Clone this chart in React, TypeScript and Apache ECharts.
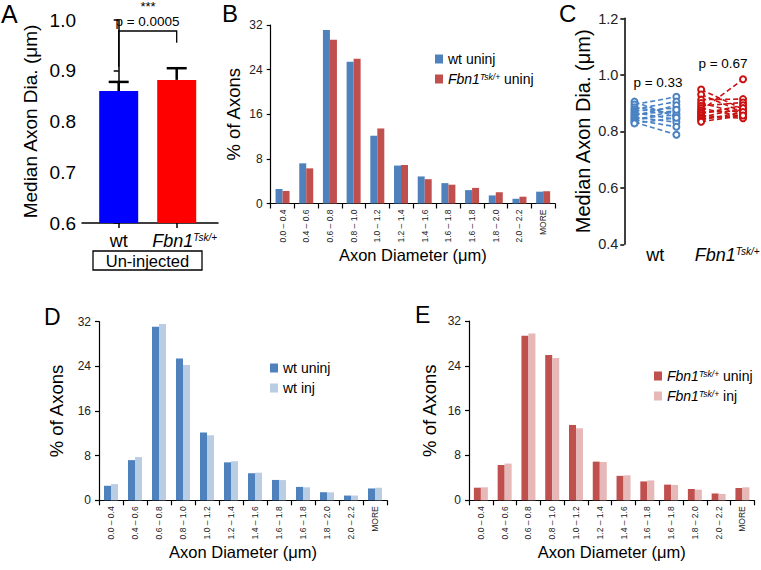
import React, { useEffect, useRef } from 'react';
import * as echarts from 'echarts';

const FONT = '"Liberation Sans", Arial, Helvetica, sans-serif';

// ---------- Panel A: median axon diameter (un-injected) ----------
const aGroups = ['wt', 'Fbn1Tsk/+'];
const aMeans = [0.86, 0.882];
const aSem = [0.018, 0.023];
const aColors = ['#0000FF', '#FF0000'];
const aYRange = [0.6, 1.0];
const aYStep = 0.1;
const aPText = 'p = 0.0005';
const aStars = '***';
const aBoxText = 'Un-injected';

// ---------- Histograms (panels B, D, E) ----------
const diameterBins = [
  '0.0 – 0.4', '0.4 – 0.6', '0.6 – 0.8', '0.8 – 1.0', '1.0 – 1.2', '1.2 – 1.4',
  '1.4 – 1.6', '1.6 – 1.8', '1.6 – 1.8', '1.8 – 2.0', '2.0 – 2.2', 'MORE',
];
const wtUninj = [2.6, 7.2, 31.1, 25.4, 12.15, 6.8, 4.85, 3.65, 2.4, 1.45, 0.85, 2.12];
const fbnUninj = [2.25, 6.3, 29.35, 25.95, 13.45, 6.9, 4.36, 3.37, 2.8, 2.02, 1.22, 2.2];
const wtInj = [2.9, 7.75, 31.6, 24.25, 11.65, 7.0, 4.95, 3.62, 2.33, 1.43, 0.85, 2.25];
const fbnInj = [2.32, 6.55, 29.75, 25.4, 12.85, 6.85, 4.46, 3.55, 2.74, 1.9, 1.12, 2.32];
const histYMax = 32;
const histYStep = 8;

// ---------- Panel C: paired medians ----------
const cGroups = ['wt', 'Fbn1Tsk/+'];
const cYTicks = [0.4, 0.6, 0.8, 1.0, 1.2];
const wtPairUninj = [0.905, 0.895, 0.885, 0.878, 0.872, 0.866, 0.86, 0.855, 0.85, 0.845, 0.84, 0.836, 0.832, 0.828];
const wtPairInj = [0.85, 0.922, 0.862, 0.905, 0.882, 0.842, 0.872, 0.892, 0.832, 0.858, 0.816, 0.876, 0.788, 0.848];
const fbnPairUninj = [0.948, 0.93, 0.912, 0.9, 0.89, 0.882, 0.874, 0.868, 0.862, 0.856, 0.85, 0.845, 0.84, 0.834];
const fbnPairInj = [0.878, 0.868, 0.914, 0.862, 0.902, 0.852, 0.984, 0.872, 0.892, 0.846, 0.882, 0.858, 0.868, 0.856];
const cPTexts = ['p = 0.33', 'p = 0.67'];

const SERIES = {
  wtU: 'wt uninj',
  fbU: 'Fbn1Tsk/+ uninj',
  wtI: 'wt inj',
  fbI: 'Fbn1Tsk/+ inj',
};

const COLORS = {
  wtU: '#4F81BD',
  fbU: '#C0504D',
  wtI: '#B9CDE5',
  fbI: '#E6B9B8',
  cWt: '#4A82C3',
  cFb: '#CC1010',
};

const rich = (fs: number, supFs: number) => ({
  i: { fontStyle: 'italic', fontSize: fs, fontFamily: FONT, color: '#000' },
  s: { fontStyle: 'italic', fontSize: supFs, fontFamily: FONT, color: '#000', verticalAlign: 'top' },
  n: { fontSize: fs, fontFamily: FONT, color: '#000' },
  pad: { width: 0 },
});
const richName = (s: string) => s.replace('Fbn1Tsk/+', '{i|Fbn1}{s|Tsk/+}');

function txt(x: number, y: number, text: string, fontSize: number, align = 'left', vAlign = 'top', extra: any = {}, z = 10) {
  return {
    type: 'text',
    x,
    y,
    z,
    silent: true,
    style: {
      text,
      fontSize,
      fontFamily: FONT,
      fill: '#000',
      align,
      verticalAlign: vAlign,
      textAlign: align,
      textVerticalAlign: vAlign,
      ...extra,
    },
  };
}

function histX(gridIndex: number) {
  return {
    type: 'category',
    gridIndex,
    data: diameterBins,
    axisLine: { show: true, lineStyle: { color: '#000', width: 1.2 } },
    axisTick: { show: true, length: 5, lineStyle: { color: '#000', width: 1.2 } },
    axisLabel: { rotate: 90, fontSize: 8.5, interval: 0, margin: 6, color: '#222', fontFamily: FONT },
    name: 'Axon Diameter (μm)',
    nameLocation: 'middle',
    nameGap: 43,
    nameTextStyle: { fontSize: 16.5, color: '#000', fontFamily: FONT },
  };
}

function histY(gridIndex: number, nameGap: number) {
  return {
    type: 'value',
    gridIndex,
    min: 0,
    max: histYMax,
    interval: histYStep,
    axisLine: { show: true, lineStyle: { color: '#000', width: 1.2 } },
    axisTick: { show: true, length: 4, lineStyle: { color: '#000', width: 1.2 } },
    axisLabel: { fontSize: 12, color: '#222', margin: 8, fontFamily: FONT, showMaxLabel: true, showMinLabel: true },
    splitLine: { show: false },
    name: '% of Axons',
    nameLocation: 'middle',
    nameGap,
    nameTextStyle: { fontSize: 18.5, color: '#000', fontFamily: FONT },
  };
}

function histBar(name: string, data: number[], color: string, axisIndex: [number, number]) {
  return {
    type: 'bar',
    name,
    xAxisIndex: axisIndex[0],
    yAxisIndex: axisIndex[1],
    data,
    barWidth: 7,
    barGap: '0%',
    itemStyle: { color },
  };
}

function pairSeries(u: number[], inj: number[], x0: number, x1: number, color: string, label: string) {
  return u.map((v, i) => ({
    type: 'line',
    name: `${label} pair ${i + 1}`,
    xAxisIndex: 2,
    yAxisIndex: 2,
    data: [[x0, v], [x1, inj[i]]],
    symbol: 'emptyCircle',
    symbolSize: 6,
    showSymbol: true,
    silent: true,
    lineStyle: { color, width: 1.6, type: [5, 3] },
    itemStyle: { color, borderColor: color, borderWidth: 1.4 },
  }));
}

const legendBase = {
  orient: 'vertical',
  icon: 'rect',
  itemWidth: 8,
  itemHeight: 9,
  itemGap: 6,
  selectedMode: false,
  formatter: (name: string) => richName(name),
  textStyle: { fontSize: 14, color: '#000', fontFamily: FONT, rich: rich(14, 8.5) },
};

export default function App() {
  const ref = useRef<HTMLDivElement>(null);
  useEffect(() => {
    if (!ref.current) return;
    const chart = echarts.init(ref.current, null, { renderer: 'svg' });

    // A axis mapping: category index 0 -> x=118.7px, 1 -> 176.7px
    const aPxPerUnit = 58;
    const aLeft = 82;
    const aWidth = 136;
    const aMin = -(118.7 - aLeft) / aPxPerUnit;
    const aMax = aMin + aWidth / aPxPerUnit;

    const cGrid = { left: 624.3, top: 18.3, width: 130, height: 226 };
    const cTopTick = cYTicks[cYTicks.length - 1];

    const option: any = {
      animation: false,
      backgroundColor: '#fff',
      textStyle: { fontFamily: FONT },
      grid: [
        { left: aLeft, top: 20, width: aWidth, height: 203, containLabel: false },
        { left: 270.7, top: 25, width: 284.3, height: 178.5 },
        cGrid,
        { left: 99, top: 321.7, width: 288, height: 178.6 },
        { left: 469, top: 321, width: 285.3, height: 179.3 },
      ],
      xAxis: [
        {
          type: 'value',
          gridIndex: 0,
          min: aMin,
          max: aMax,
          axisLine: { show: true, lineStyle: { color: '#000', width: 1.5 } },
          axisTick: { show: true, length: 5, customValues: [0, 1], lineStyle: { color: '#000', width: 1.5 } },
          axisLabel: {
            customValues: [0, 1],
            fontSize: 18,
            color: '#000',
            margin: 9,
            fontFamily: FONT,
            formatter: (v: number) => {
              const name = aGroups[Math.round(v)] || '';
              return name === 'wt' ? name : '{pad|}' + richName(name);
            },
            rich: { ...rich(18, 10), pad: { width: 16 } },
          },
          splitLine: { show: false },
        },
        histX(1),
        {
          type: 'value',
          gridIndex: 2,
          min: 0,
          max: 130,
          axisLine: { show: false },
          axisTick: { show: false },
          axisLabel: { show: false },
          splitLine: { show: false },
        },
        {
          type: 'category',
          gridIndex: 2,
          data: cGroups,
          position: 'bottom',
          axisLine: { show: false },
          axisTick: { show: false },
          axisLabel: {
            interval: 0,
            hideOverlap: false,
            fontSize: 18,
            color: '#000',
            margin: 2,
            fontFamily: FONT,
            formatter: (v: string) => (v === 'wt' ? v : '{pad|}' + richName(v)),
            rich: { ...rich(18, 10), pad: { width: 20 } },
          },
        },
        histX(3),
        histX(4),
      ],
      yAxis: [
        {
          type: 'value',
          gridIndex: 0,
          min: aYRange[0],
          max: aYRange[1],
          interval: aYStep,
          axisLine: { show: true, lineStyle: { color: '#000', width: 1.5 } },
          axisTick: { show: true, length: 5, lineStyle: { color: '#000', width: 1.5 } },
          axisLabel: { fontSize: 19, color: '#000', margin: 6, fontFamily: FONT, showMaxLabel: true, formatter: (v: number) => v.toFixed(1) },
          splitLine: { show: false },
          name: 'Median Axon Dia. (μm)',
          nameLocation: 'middle',
          nameGap: 42,
          nameTextStyle: { fontSize: 19, color: '#000', fontFamily: FONT },
        },
        histY(1, 28),
        {
          type: 'value',
          gridIndex: 2,
          min: cYTicks[0],
          max: cTopTick,
          axisLine: { show: true, lineStyle: { color: '#000', width: 1.5 } },
          axisTick: { show: true, length: 4, customValues: cYTicks, lineStyle: { color: '#000', width: 1.5 } },
          axisLabel: {
            customValues: cYTicks.slice(0, -1),
            showMinLabel: true,
            fontSize: 14.5,
            color: '#222',
            margin: 6,
            fontFamily: FONT,
            formatter: (v: number) => v.toFixed(1),
          },
          splitLine: { show: false },
          name: 'Median Axon Dia. (μm)',
          nameLocation: 'middle',
          nameGap: 31,
          nameMoveOverlap: false,
          nameTextStyle: { fontSize: 20, color: '#000', fontFamily: FONT },
        },
        histY(3, 33),
        histY(4, 30),
      ],
      legend: [
        { ...legendBase, data: [SERIES.wtU, SERIES.fbU], left: 430, top: 47 },
        { ...legendBase, data: [SERIES.wtU, SERIES.wtI], left: 265, top: 356 },
        { ...legendBase, data: [SERIES.fbU, SERIES.fbI], left: 649, top: 364 },
      ],
      series: [
        {
          type: 'bar',
          name: 'Median axon diameter',
          xAxisIndex: 0,
          yAxisIndex: 0,
          barWidth: 39,
          data: aMeans.map((m, i) => ({ value: [i, m], itemStyle: { color: aColors[i] } })),
        },
        {
          type: 'custom',
          name: 'SEM',
          xAxisIndex: 0,
          yAxisIndex: 0,
          z: 5,
          encode: { x: 0, y: 1 },
          data: aMeans.map((m, i) => [i, m, aSem[i]]),
          renderItem: (params: any, api: any) => {
            const x = api.value(0);
            const y = api.value(1);
            const e = api.value(2);
            const p0 = api.coord([x, y]);
            const p1 = api.coord([x, y + e]);
            const st = { stroke: '#000', lineWidth: 2.5 };
            return {
              type: 'group',
              children: [
                { type: 'line', shape: { x1: p0[0], y1: p0[1], x2: p1[0], y2: p1[1] }, style: st },
                { type: 'line', shape: { x1: p1[0] - 10, y1: p1[1], x2: p1[0] + 10, y2: p1[1] }, style: st },
              ],
            };
          },
        },
        histBar(SERIES.wtU, wtUninj, COLORS.wtU, [1, 1]),
        histBar(SERIES.fbU, fbnUninj, COLORS.fbU, [1, 1]),
        ...pairSeries(wtPairUninj, wtPairInj, 10.7, 54.7, COLORS.cWt, 'wt'),
        ...pairSeries(fbnPairUninj, fbnPairInj, 80.7, 124.7, COLORS.cFb, 'Fbn1'),
        // top tick label of panel C's axis, placed through the axis scale
        {
          type: 'custom',
          name: 'C top tick label',
          xAxisIndex: 2,
          yAxisIndex: 2,
          z: 50,
          clip: false,
          silent: true,
          data: [[0, cTopTick]],
          renderItem: (params: any, api: any) => {
            const p = api.coord([api.value(0), api.value(1)]);
            return {
              type: 'text',
              x: p[0] - 6,
              y: p[1] + 1,
              style: {
                text: Number(api.value(1)).toFixed(1),
                fontSize: 14.5,
                fontFamily: FONT,
                fill: '#222',
                align: 'right',
                verticalAlign: 'middle',
              },
            };
          },
        },
        histBar(SERIES.wtU, wtUninj, COLORS.wtU, [4, 3]),
        histBar(SERIES.wtI, wtInj, COLORS.wtI, [4, 3]),
        histBar(SERIES.fbU, fbnUninj, COLORS.fbU, [5, 4]),
        histBar(SERIES.fbI, fbnInj, COLORS.fbI, [5, 4]),
      ],
      graphic: [
        txt(1, 1, 'A', 25),
        txt(222, 1, 'B', 24),
        txt(559, 1, 'C', 24),
        txt(44, 305, 'D', 23),
        txt(415, 303, 'E', 23),
        {
          type: 'polyline',
          silent: true,
          z: 10,
          shape: { points: [[118.7, 66.7], [118.7, 31], [176.7, 31], [176.7, 42.7]] },
          style: { stroke: '#000', lineWidth: 1.3, fill: null },
        },
        txt(147.5, 21.5, aPText, 13.5, 'center', 'middle'),
        txt(148, 0, aStars, 13, 'center', 'top'),
        {
          type: 'rect',
          silent: true,
          z: 10,
          shape: { x: 93, y: 251, width: 109, height: 19 },
          style: { stroke: '#000', lineWidth: 1.3, fill: 'none' },
        },
        txt(147.5, 261, aBoxText, 16.5, 'center', 'middle'),
        txt(658, 82, cPTexts[0], 13.5, 'center', 'middle'),
        txt(723, 63, cPTexts[1], 13.5, 'center', 'middle'),
      ],
    };
    chart.setOption(option);
    return () => chart.dispose();
  }, []);
  return <div ref={ref} style={{ position: 'fixed', left: 0, top: 0, width: 761, height: 570, background: '#fff' }} />;
}
